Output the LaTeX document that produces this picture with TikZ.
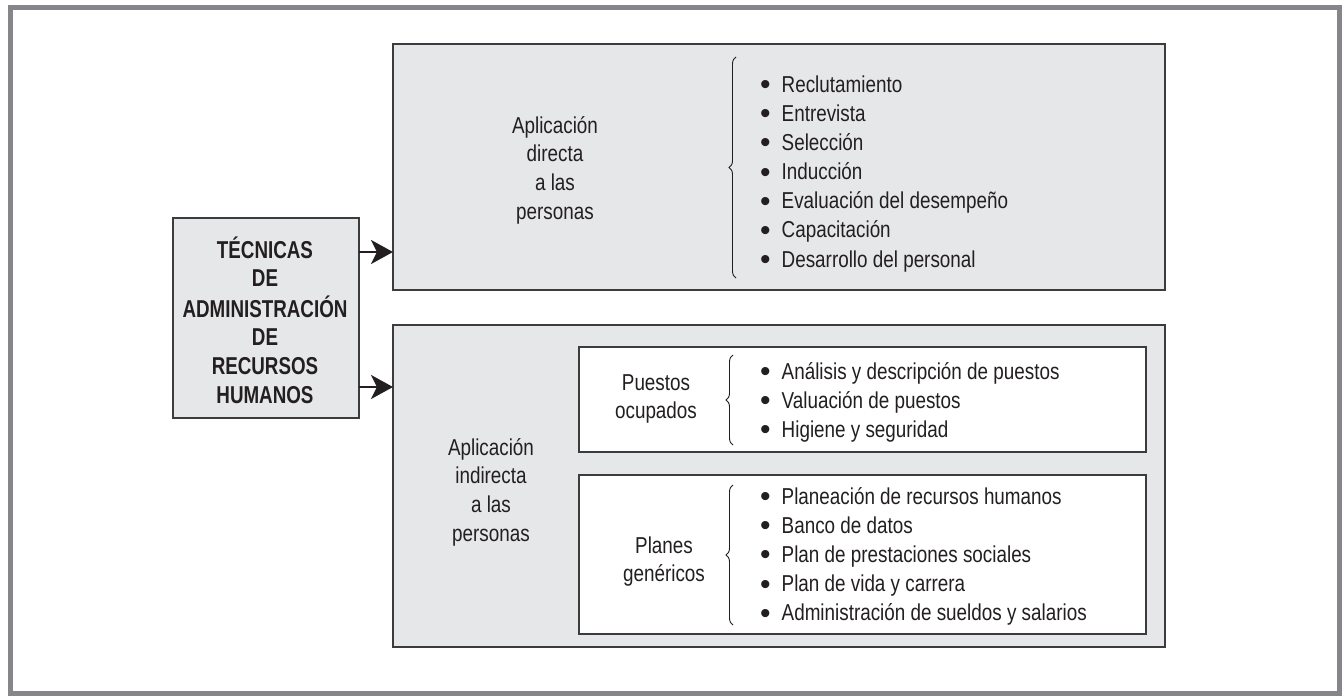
\documentclass[tikz,border=0pt]{standalone}
\usepackage{fontspec}
\setmainfont{Liberation Sans}[FakeStretch=0.82]
\newfontfamily\titlefont{Liberation Sans}[FakeStretch=0.77]
\newfontfamily\bulletfont{Liberation Sans}
\usetikzlibrary{arrows.meta,decorations.pathreplacing}
\definecolor{boxfill}{HTML}{E6E7E8}
\definecolor{framegray}{HTML}{85858A}
\definecolor{ink}{HTML}{231F20}
\definecolor{edge}{HTML}{3C3C3E}
\newcommand{\blt}{\raisebox{-2.5pt}{\bulletfont\fontsize{30}{30}\selectfont\textbullet}\hspace{11pt}}
\begin{document}
\begin{tikzpicture}[x=1pt,y=-1pt,
  panel/.style={draw=edge, line width=1.4pt, fill=boxfill, inner sep=0pt, outer sep=0pt, anchor=north west},
  subpanel/.style={panel, fill=white},
  label/.style={inner sep=0pt, anchor=base, text=ink, font=\fontsize{23}{28.8}\selectfont},
  itemlist/.style={inner sep=0pt, anchor=base west, text=ink, font=\fontsize{23}{29.2}\selectfont},
  titletext/.style={inner sep=0pt, anchor=base, text=ink, font=\titlefont\bfseries\fontsize{24.4}{28.8}\selectfont},
  conn/.style={draw=ink, line width=2.8pt, -{Stealth[length=22pt,width=24pt,inset=6pt]}},
  bracket/.style={draw=ink, line width=0.9pt, decorate, decoration={brace, amplitude=7pt}}
]
\useasboundingbox (0,0) rectangle (1342,696);
\fill[white] (0,0) rectangle (1342,696);
\draw[framegray, line width=5pt] (10.5,7.5) rectangle (1339.5,693.5);

% boxes
\node[panel, minimum width=186pt, minimum height=200pt] (tec) at (173,218) {};
\node[panel, minimum width=772pt, minimum height=246pt] (top) at (393,44) {};
\node[panel, minimum width=772pt, minimum height=322pt] (bot) at (393,325) {};
\node[subpanel, minimum width=567pt, minimum height=105pt] (in1) at (579,347) {};
\node[subpanel, minimum width=567pt, minimum height=159pt] (in2) at (579,475) {};

% title
\node[titletext] (title) at (265,258) {\begin{tabular}[t]{@{}c@{}}TÉCNICAS\\DE\\ADMINISTRACIÓN\\DE\\RECURSOS\\HUMANOS\end{tabular}};

% labels
\node[label] (lab1) at (555,133) {\begin{tabular}[t]{@{}c@{}}Aplicación\\directa\\a las\\personas\end{tabular}};
\node[label] (lab2) at (491,455) {\begin{tabular}[t]{@{}c@{}}Aplicación\\indirecta\\a las\\personas\end{tabular}};
\node[label] (lab3) at (656,390) {\begin{tabular}[t]{@{}c@{}}Puestos\\ocupados\end{tabular}};
\node[label] (lab4) at (664,553) {\begin{tabular}[t]{@{}c@{}}Planes\\genéricos\end{tabular}};

% lists
\node[itemlist] (list1) at (760,92) {\begin{tabular}[t]{@{}l@{}}
\blt Reclutamiento\\
\blt Entrevista\\
\blt Selección\\
\blt Inducción\\
\blt Evaluación del desempeño\\
\blt Capacitación\\
\blt Desarrollo del personal\end{tabular}};
\node[itemlist] (list2) at (760,379) {\begin{tabular}[t]{@{}l@{}}
\blt Análisis y descripción de puestos\\
\blt Valuación de puestos\\
\blt Higiene y seguridad\end{tabular}};
\node[itemlist] (list3) at (760,504) {\begin{tabular}[t]{@{}l@{}}
\blt Planeación de recursos humanos\\
\blt Banco de datos\\
\blt Plan de prestaciones sociales\\
\blt Plan de vida y carrera\\
\blt Administración de sueldos y salarios\end{tabular}};

% braces
\draw[bracket] (736,278) -- (736,57);
\draw[bracket] (733,445) -- (733,355);
\draw[bracket] (733,625) -- (733,485);

% connectors
\coordinate (a1) at ([yshift=-34pt]tec.north east);
\coordinate (a2) at ([yshift=-169pt]tec.north east);
\draw[conn] (a1) -- (a1 -| top.west);
\draw[conn] (a2) -- (a2 -| bot.west);
\end{tikzpicture}
\end{document}
